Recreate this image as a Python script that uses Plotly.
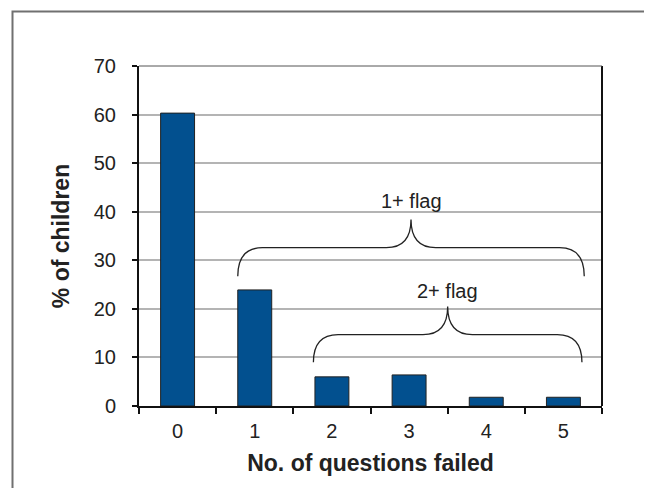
import plotly.graph_objects as go

categories = ["0", "1", "2", "3", "4", "5"]
percent_children = [60.3, 23.9, 6.0, 6.4, 1.8, 1.8]
y_ticks = [0, 10, 20, 30, 40, 50, 60, 70]

brace_labels = ["1+ flag", "2+ flag"]
brace_x0 = [0.78, 1.76]
brace_x1 = [5.27, 5.24]
brace_tip_y = [26.7, 9.0]
brace_flat_y = [32.6, 14.7]
brace_peak_y = [38.4, 20.5]
brace_label_y = [42.3, 23.7]

# page body has an 8px margin on every side; keep the figure inside the window
OFF = 8
PAGE_W, PAGE_H = 652, 504
W, H = PAGE_W - 2 * OFF, PAGE_H - 2 * OFF - 8
# plot area in page pixels: x 139..602, y 66..406
L = 139 - OFF
T = 66 - OFF
R = W - (602 - OFF)
B = H - (406 - OFF)
pw, ph = W - L - R, H - T - B

def px_to_paper_x(px):
    return (px - OFF - L) / pw

def px_to_paper_y(py):
    return (H - B - (py - OFF)) / ph

fig = go.Figure()
fig.add_trace(go.Bar(
    x=categories, y=percent_children,
    marker=dict(color="#02508f", line=dict(color="#222222", width=1)),
    width=0.44,
))

shapes = []
for x0, x1, yt, yf, yp in zip(brace_x0, brace_x1, brace_tip_y, brace_flat_y, brace_peak_y):
    xc = (x0 + x1) / 2
    r = 0.32
    path = (f"M {x0},{yt} Q {x0},{yf} {x0 + r},{yf} "
            f"L {xc - r},{yf} Q {xc},{yf} {xc},{yp} "
            f"Q {xc},{yf} {xc + r},{yf} "
            f"L {x1 - r},{yf} Q {x1},{yf} {x1},{yt}")
    shapes.append(dict(type="path", path=path, xref="x", yref="y",
                       line=dict(color="#222222", width=1.3)))

# right border of plot area
shapes.append(dict(type="line", xref="paper", yref="paper", x0=1, x1=1, y0=0, y1=1,
                   line=dict(color="#111111", width=2)))
# top border
shapes.append(dict(type="line", xref="paper", yref="paper", x0=0, x1=1, y0=1, y1=1,
                   line=dict(color="#555555", width=1)))
# outer frame (top and left) as one open polyline
fx_r = px_to_paper_x(PAGE_W - OFF)
fx_l = px_to_paper_x(12.5)
fy_t = px_to_paper_y(11.5)
fy_b = px_to_paper_y(PAGE_H - OFF)
shapes.append(dict(type="path", xref="paper", yref="paper",
                   path=f"M {fx_r},{fy_t} L {fx_l},{fy_t} L {fx_l},{fy_b}",
                   fillcolor="rgba(0,0,0,0)",
                   line=dict(color="#707070", width=2)))

annotations = []
for lab, x0, x1, ly in zip(brace_labels, brace_x0, brace_x1, brace_label_y):
    annotations.append(dict(x=(x0 + x1) / 2, y=ly, xref="x", yref="y", text=lab,
                            showarrow=False, font=dict(size=20, color="#222222")))

fig.update_layout(
    width=W, height=H,
    margin=dict(l=L, r=R, t=T, b=B),
    paper_bgcolor="white", plot_bgcolor="white",
    font=dict(family="Liberation Sans, Arial, sans-serif", color="#222222", size=20),
    showlegend=False,
    shapes=shapes,
    annotations=annotations,
    xaxis=dict(
        type="category", tickson="boundaries", ticks="outside", ticklen=6,
        tickcolor="#111111", tickwidth=1.5,
        showline=True, linecolor="#111111", linewidth=2,
        range=[-0.5, 5.5], showgrid=False,
        ticklabelstandoff=6,
        title=dict(text="<b>No. of questions failed</b>", font=dict(size=23), standoff=14),
        tickfont=dict(size=20),
    ),
    yaxis=dict(
        range=[0, 70], tickvals=y_ticks, ticks="outside", ticklen=5,
        tickcolor="#111111", tickwidth=1.5,
        showline=True, linecolor="#111111", linewidth=2,
        showgrid=True, gridcolor="#b4b4b4", gridwidth=1.5,
        zeroline=False,
        ticklabelstandoff=12,
        title=dict(text="<b>% of children</b>", font=dict(size=23), standoff=18),
        tickfont=dict(size=20),
    ),
)

fig.write_html("out.html")
